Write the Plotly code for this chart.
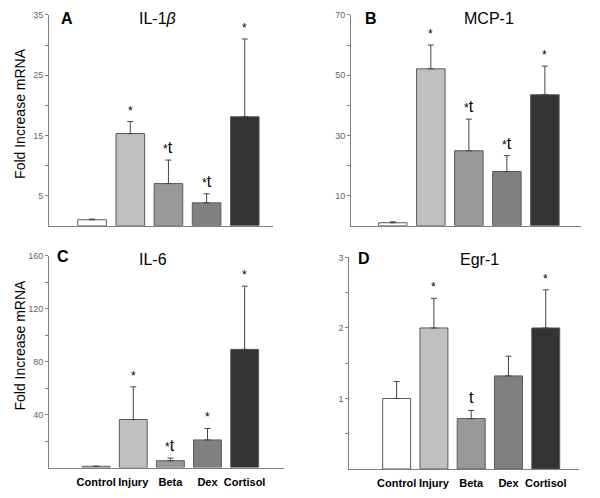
import plotly.graph_objects as go

categories = ["Control", "Injury", "Beta", "Dex", "Cortisol"]
bar_colors = ["#ffffff", "#c0c0c0", "#999999", "#808080", "#333333"]

# Panel A: IL-1beta
A_mean = [1.0, 15.3, 7.0, 3.8, 18.1]
A_err = [0.1, 2.0, 3.9, 1.5, 12.9]
A_sig = ["", "*", "*t", "*t", "*"]
# Panel B: MCP-1
B_mean = [1.0, 52.1, 24.9, 18.0, 43.5]
B_err = [0.3, 7.9, 10.5, 5.3, 9.5]
B_sig = ["", "*", "*t", "*t", "*"]
# Panel C: IL-6
C_mean = [1.0, 36.3, 5.2, 20.9, 89.3]
C_err = [0.0, 24.7, 2.0, 8.7, 47.7]
C_sig = ["", "*", "*t", "*", "*"]
# Panel D: Egr-1
D_mean = [1.0, 2.0, 0.715, 1.32, 2.0]
D_err = [0.24, 0.42, 0.115, 0.28, 0.54]
D_sig = ["", "*", "t", "", "*"]

W, H = 600, 498
FONT = "Arial, Liberation Sans, sans-serif"

panels = [
    dict(letter="A", title="IL-1<i>β</i>", mean=A_mean, err=A_err, sig=A_sig,
         xpx=(49, 273), ypx=(223, 10), xr=(-1.13, 4.74), ymax=35, dt=5,
         labels=[5, 15, 25, 35], letter_xy=(67, 14), title_xy=(157, 14), showcat=False),
    dict(letter="B", title="MCP-1", mean=B_mean, err=B_err, sig=B_sig,
         xpx=(351, 581), ypx=(223, 10), xr=(-1.1, 4.95), ymax=70, dt=10,
         labels=[10, 30, 50, 70], letter_xy=(371, 14), title_xy=(489, 14), showcat=False),
    dict(letter="C", title="IL-6", mean=C_mean, err=C_err, sig=C_sig,
         xpx=(49, 284), ypx=(467.3, 253.3), xr=(-1.27, 5.06), ymax=160, dt=20,
         labels=[40, 80, 120, 160], letter_xy=(63, 254), title_xy=(153, 257), showcat=True),
    dict(letter="D", title="Egr-1", mean=D_mean, err=D_err, sig=D_sig,
         xpx=(349.3, 579.3), ypx=(468.7, 255), xr=(-1.27, 4.9), ymax=3, dt=0.5,
         labels=[1, 2, 3], letter_xy=(364, 256), title_xy=(479, 257), showcat=True),
]

fig = go.Figure()
annotations = []
layout = {}
for i, p in enumerate(panels, start=1):
    xa = "x" if i == 1 else f"x{i}"
    ya = "y" if i == 1 else f"y{i}"
    xkey = "xaxis" if i == 1 else f"xaxis{i}"
    ykey = "yaxis" if i == 1 else f"yaxis{i}"
    fig.add_trace(go.Bar(
        x=list(range(len(categories))), y=p["mean"],
        width=0.75,
        marker=dict(color=bar_colors, line=dict(color="#5a5a5a", width=1)),
        error_y=dict(type="data", array=p["err"], arrayminus=[0] * 5, symmetric=False,
                     color="#444444", thickness=1, width=3),
        xaxis=xa, yaxis=ya, showlegend=False, hoverinfo="skip",
    ))
    n = int(round(p["ymax"] / p["dt"]))
    tv = [p["dt"] * k for k in range(1, n + 1)]
    tt = [(("%g" % v) if any(abs(v - l) < 1e-9 for l in p["labels"]) else "") for v in tv]
    layout[xkey] = dict(
        domain=[p["xpx"][0] / W, p["xpx"][1] / W], anchor=ya, range=list(p["xr"]),
        showline=True, linecolor="#808080", linewidth=1, showgrid=False, zeroline=False,
        tickvals=list(range(5)), ticktext=categories if p["showcat"] else [""] * 5,
        ticks="outside" if p["showcat"] else "", ticklen=4, tickcolor="rgba(0,0,0,0)",
        showticklabels=p["showcat"],
        tickfont=dict(family=FONT, size=11, color="#000000", weight="bold"),
    )
    layout[ykey] = dict(
        domain=[1 - p["ypx"][0] / H, 1 - p["ypx"][1] / H], anchor=xa,
        range=[0, p["ymax"]], showline=True, linecolor="#808080", linewidth=1,
        showgrid=False, zeroline=False, tickvals=tv, ticktext=tt,
        ticks="outside", ticklen=3, tickcolor="#808080",
        tickfont=dict(family=FONT, size=9, color="#666666"),
    )
    # significance markers
    for k, s in enumerate(p["sig"]):
        if not s:
            continue
        if s == "*":
            txt = "<span style='font-size:12px'>*</span>"
        elif s == "*t":
            txt = "<span style='font-size:12px'>*</span><span style='font-size:16px'>t</span>"
        else:
            txt = "<span style='font-size:16px'>t</span>"
        annotations.append(dict(
            x=k, y=p["mean"][k] + p["err"][k], xref=xa, yref=ya, text=txt,
            showarrow=False, yanchor="bottom", yshift=2,
            font=dict(family=FONT, color="#000000")))
    annotations.append(dict(
        x=p["letter_xy"][0] / W, y=1 - p["letter_xy"][1] / H, xref="paper", yref="paper",
        text="<b>" + p["letter"] + "</b>", showarrow=False, xanchor="center", yanchor="middle",
        font=dict(family=FONT, size=16, color="#000000")))
    annotations.append(dict(
        x=p["title_xy"][0] / W, y=1 - p["title_xy"][1] / H, xref="paper", yref="paper",
        text=p["title"], showarrow=False, xanchor="center", yanchor="middle",
        font=dict(family=FONT, size=16, color="#000000")))

for ycen in (110, 344):
    annotations.append(dict(
        x=20 / W, y=1 - ycen / H, xref="paper", yref="paper", text="Fold Increase mRNA",
        textangle=-90, showarrow=False, xanchor="center", yanchor="middle",
        font=dict(family=FONT, size=14, color="#000000")))

fig.update_layout(
    width=W, height=H, margin=dict(l=0, r=0, t=0, b=0),
    paper_bgcolor="white", plot_bgcolor="white", bargap=0.25,
    annotations=annotations, **layout,
)
fig.write_html("out.html", config={"displayModeBar": False},
               post_script="document.body.style.margin='0';document.body.style.overflow='hidden';")
